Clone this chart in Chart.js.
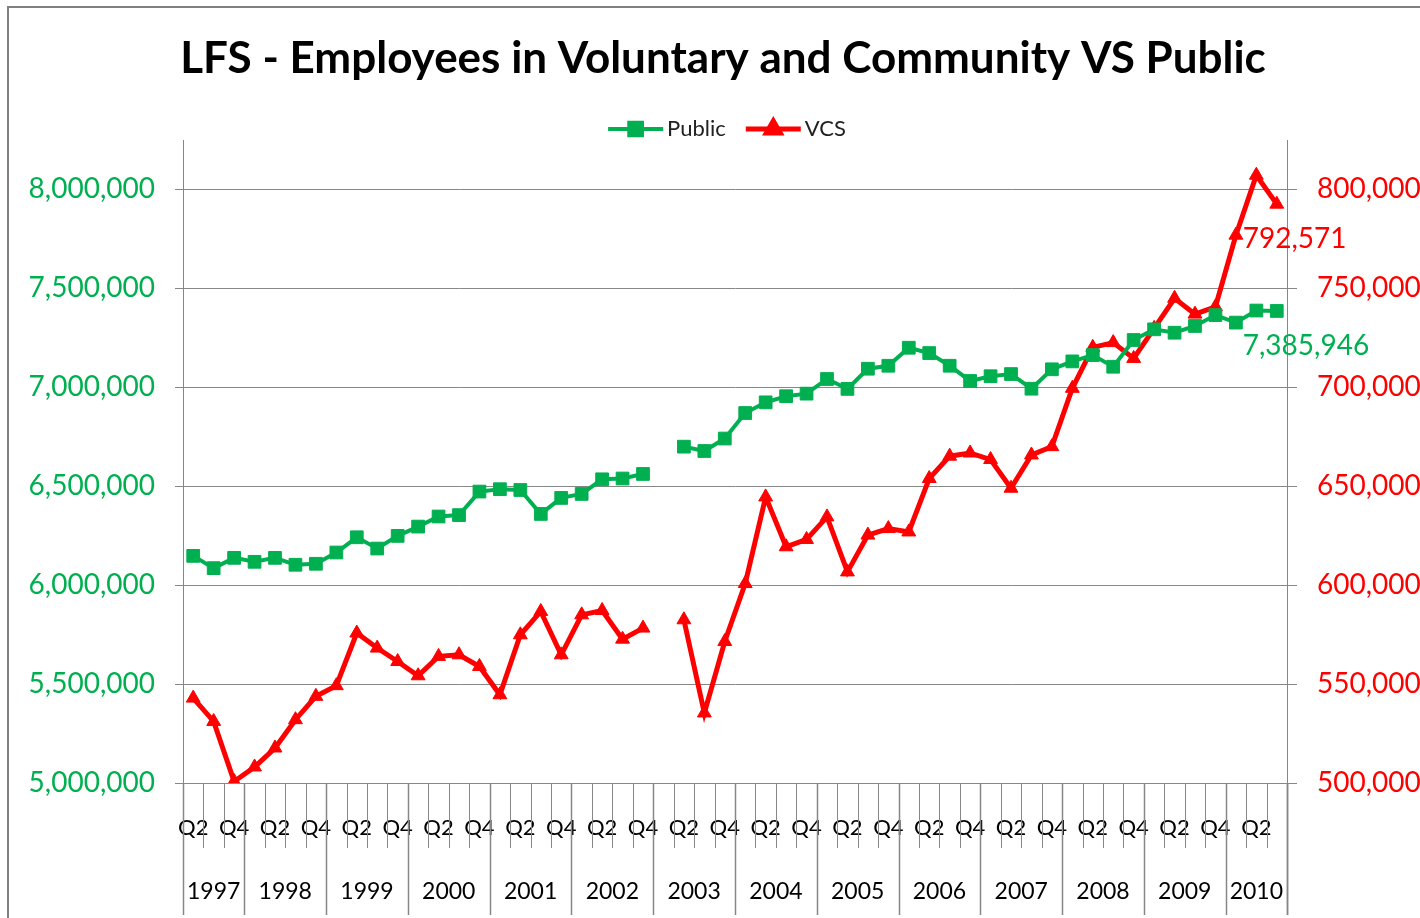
<!DOCTYPE html>
<html>
<head>
<meta charset="utf-8">
<script src="https://cdn.jsdelivr.net/npm/chart.js@4.4.1/dist/chart.umd.min.js"></script>
<style>
    html, body { margin: 0; padding: 0; background: #fff; }
    canvas { display: block; }
</style>
</head>
<body>
<canvas id="lfsChart" width="1420" height="918"></canvas>
<script>
// ---------------------------------------------------------------
//  LFS - employees, Voluntary & Community sector vs Public sector
// ---------------------------------------------------------------

const quarters = [
    'Q2', 'Q3', 'Q4',
    'Q1', 'Q2', 'Q3', 'Q4',
    'Q1', 'Q2', 'Q3', 'Q4',
    'Q1', 'Q2', 'Q3', 'Q4',
    'Q1', 'Q2', 'Q3', 'Q4',
    'Q1', 'Q2', 'Q3', 'Q4',
    'Q1', 'Q2', 'Q3', 'Q4',
    'Q1', 'Q2', 'Q3', 'Q4',
    'Q1', 'Q2', 'Q3', 'Q4',
    'Q1', 'Q2', 'Q3', 'Q4',
    'Q1', 'Q2', 'Q3', 'Q4',
    'Q1', 'Q2', 'Q3', 'Q4',
    'Q1', 'Q2', 'Q3', 'Q4',
    'Q1', 'Q2', 'Q3'
];

const quarterYears = [
    '1997', '1997', '1997',
    '1998', '1998', '1998', '1998',
    '1999', '1999', '1999', '1999',
    '2000', '2000', '2000', '2000',
    '2001', '2001', '2001', '2001',
    '2002', '2002', '2002', '2002',
    '2003', '2003', '2003', '2003',
    '2004', '2004', '2004', '2004',
    '2005', '2005', '2005', '2005',
    '2006', '2006', '2006', '2006',
    '2007', '2007', '2007', '2007',
    '2008', '2008', '2008', '2008',
    '2009', '2009', '2009', '2009',
    '2010', '2010', '2010'
];

const publicValues = [
    6148000, 6086000, 6138000,
    6118000, 6138000, 6103000, 6108000,
    6165000, 6242000, 6185000, 6249000,
    6296000, 6347000, 6354000, 6473000,
    6485000, 6481000, 6360000, 6441000,
    6461000, 6535000, 6539000, 6562000,
    null,    6700000, 6678000, 6741000,
    6870000, 6924000, 6955000, 6968000,
    7042000, 6992000, 7094000, 7109000,
    7200000, 7173000, 7109000, 7032000,
    7056000, 7067000, 6993000, 7091000,
    7131000, 7163000, 7104000, 7239000,
    7293000, 7276000, 7310000, 7365000,
    7327000, 7388000, 7385946
];

const vcsValues = [
    542900, 531100, 500800,
    508100, 517700, 532000, 543800,
    549200, 575800, 568200, 561400,
    554200, 564000, 564800, 558900,
    544600, 574900, 586700, 564800,
    585000, 587200, 572700, 578300,
    null,   582500, 535400, 571500,
    600800, 644600, 619400, 623100,
    634500, 606700, 625300, 628600,
    626900, 653900, 665200, 666800,
    663500, 649000, 665800, 670000,
    699500, 720200, 722600, 714600,
    729800, 745000, 737000, 740700,
    776900, 807200, 792571
];

const leftTicks = [5000000, 5500000, 6000000, 6500000, 7000000, 7500000, 8000000];
const rightTicks = [500000, 550000, 600000, 650000, 700000, 750000, 800000];

const GREEN = '#00B050';
const RED = '#FF0000';
const GRID = '#878787';
const FONT = 'Lato, "Open Sans", sans-serif';

const fmt = v => Number(v).toLocaleString('en-US');

// title, legend, border, two-level category axis and end labels
const decorPlugin = {
    id: 'decor',
    beforeDraw(chart) {
        const ctx = chart.ctx;
        ctx.save();
        ctx.fillStyle = '#fff';
        ctx.fillRect(0, 0, chart.width, chart.height);
        ctx.strokeStyle = '#808080';
        ctx.lineWidth = 2;
        ctx.beginPath();
        ctx.moveTo(8, chart.height);
        ctx.lineTo(8, 7);
        ctx.lineTo(chart.width, 7);
        ctx.stroke();
        ctx.restore();
    },
    afterDraw(chart) {
        const ctx = chart.ctx;
        const x = chart.scales.x;
        const area = chart.chartArea;
        ctx.save();

        // title
        ctx.fillStyle = '#000';
        ctx.font = 'bold 44px ' + FONT;
        ctx.textAlign = 'center';
        ctx.textBaseline = 'middle';
        ctx.fillText('LFS - Employees in Voluntary and Community VS Public', 723, 59);

        // legend
        ctx.font = '22px ' + FONT;
        ctx.textAlign = 'left';
        const items = chart.data.datasets.map(ds => ({ ds, w: ctx.measureText(ds.label).width }));
        const lineLen = 55, gapText = 4, gapItem = 20;
        let total = 0;
        items.forEach((it, i) => { total += lineLen + gapText + it.w + (i ? gapItem : 0); });
        let lx = 727 - total / 2;
        const ly = 129;
        items.forEach(it => {
            ctx.strokeStyle = it.ds.borderColor;
            ctx.lineWidth = it.ds.borderWidth;
            ctx.beginPath();
            ctx.moveTo(lx, ly);
            ctx.lineTo(lx + lineLen, ly);
            ctx.stroke();
            Chart.helpers.drawPoint(ctx, {
                pointStyle: it.ds.pointStyle,
                radius: it.ds.pointRadius,
                borderWidth: 1
            }, lx + lineLen / 2, ly);
            ctx.fillStyle = it.ds.borderColor;
            ctx.fill();
            ctx.fillStyle = '#222';
            ctx.fillText(it.ds.label, lx + lineLen + gapText, ly);
            lx += lineLen + gapText + it.w + gapItem;
        });

        // category separators + year row
        const half = (x.getPixelForValue(1) - x.getPixelForValue(0)) / 2;
        ctx.strokeStyle = GRID;
        for (let k = 0; k <= quarters.length; k++) {
            const bx = Math.round(x.getPixelForValue(Math.min(k, quarters.length - 1)) + (k === quarters.length ? half : -half)) + 0.5;
            const yearEdge = k === 0 || k === quarters.length || quarterYears[k] !== quarterYears[k - 1];
            ctx.lineWidth = yearEdge ? 1.5 : 1;
            ctx.beginPath();
            ctx.moveTo(bx, area.bottom);
            ctx.lineTo(bx, yearEdge ? 915 : 848);
            ctx.stroke();
        }
        // right axis extension
        ctx.beginPath();
        ctx.moveTo(area.right + 0.5, area.bottom);
        ctx.lineTo(area.right + 0.5, 915);
        ctx.stroke();

        ctx.fillStyle = '#000';
        ctx.font = '23px ' + FONT;
        ctx.textAlign = 'center';
        let start = 0;
        for (let k = 1; k <= quarterYears.length; k++) {
            if (k === quarterYears.length || quarterYears[k] !== quarterYears[start]) {
                const x0 = x.getPixelForValue(start) - half;
                const x1 = x.getPixelForValue(k - 1) + half;
                ctx.fillText(quarterYears[start], (x0 + x1) / 2, 892);
                start = k;
            }
        }

        // end-of-series labels
        ctx.font = '28px ' + FONT;
        ctx.textAlign = 'left';
        chart.data.datasets.forEach((ds, di) => {
            const meta = chart.getDatasetMeta(di);
            const last = meta.data[meta.data.length - 1];
            const val = ds.data[ds.data.length - 1];
            ctx.fillStyle = ds.borderColor;
            ctx.fillText(fmt(val), last.x - 34, last.y + 35);
        });

        ctx.restore();
    }
};

const ctx = document.getElementById('lfsChart').getContext('2d');
new Chart(ctx, {
    type: 'line',
    data: {
        labels: quarters,
        datasets: [
            {
                label: 'Public',
                data: publicValues,
                yAxisID: 'yLeft',
                borderColor: GREEN,
                backgroundColor: GREEN,
                borderWidth: 4,
                pointStyle: 'rect',
                pointRadius: 9,
                pointBorderWidth: 1,
                pointBackgroundColor: GREEN,
                pointBorderColor: GREEN,
                tension: 0,
                spanGaps: false
            },
            {
                label: 'VCS',
                data: vcsValues,
                yAxisID: 'yRight',
                borderColor: RED,
                backgroundColor: RED,
                borderWidth: 5,
                pointStyle: 'triangle',
                pointRadius: 8,
                pointBorderWidth: 1,
                pointBackgroundColor: RED,
                pointBorderColor: RED,
                tension: 0,
                spanGaps: false
            }
        ]
    },
    options: {
        responsive: false,
        animation: false,
        layout: { padding: { top: 140, left: 0, right: 0, bottom: 0 } },
        plugins: {
            legend: { display: false },
            title: { display: false },
            tooltip: { enabled: false }
        },
        scales: {
            x: {
                offset: true,
                grid: { display: false },
                border: { display: true, color: GRID },
                ticks: {
                    autoSkip: false,
                    maxRotation: 0,
                    minRotation: 0,
                    padding: 24,
                    color: '#000',
                    font: { family: FONT, size: 22 },
                    callback: (val, i) => (i % 2 === 0 ? quarters[i] : '')
                },
                afterFit: s => { s.height = 135; }
            },
            yLeft: {
                position: 'left',
                min: 5000000,
                max: 8250000,
                grid: { color: GRID, tickLength: 8, tickColor: GRID },
                border: { display: true, color: GRID },
                ticks: {
                    padding: 20,
                    color: GREEN,
                    font: { family: FONT, size: 28 },
                    callback: v => fmt(v)
                },
                afterBuildTicks: s => { s.ticks = leftTicks.map(v => ({ value: v })); },
                afterFit: s => { s.width = 183; }
            },
            yRight: {
                position: 'right',
                min: 500000,
                max: 825000,
                grid: { drawOnChartArea: false, tickLength: 10, color: GRID },
                border: { display: true, color: GRID },
                ticks: {
                    padding: 20,
                    color: RED,
                    font: { family: FONT, size: 28 },
                    callback: v => fmt(v)
                },
                afterBuildTicks: s => { s.ticks = rightTicks.map(v => ({ value: v })); },
                afterFit: s => { s.width = 133; }
            }
        }
    },
    plugins: [decorPlugin]
});
</script>
</body>
</html>
